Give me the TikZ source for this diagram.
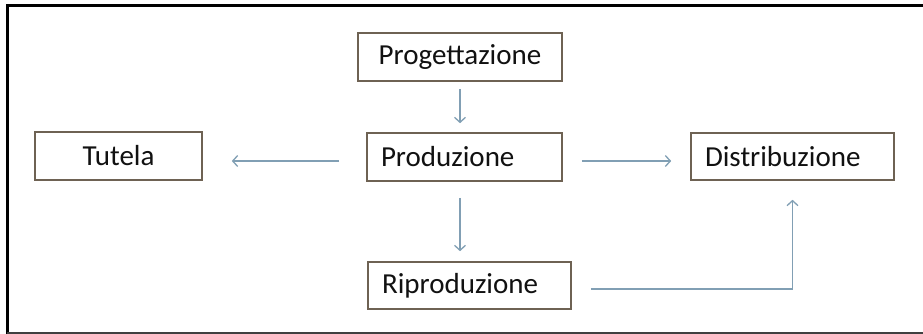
\documentclass[tikz,border=0pt]{standalone}
\usepackage{fontspec}
\setmainfont{Carlito}
\usetikzlibrary{arrows.meta}
\definecolor{boxc}{HTML}{6E6253}
\definecolor{arrc}{HTML}{819FB4}
\definecolor{txtc}{HTML}{111111}
\begin{document}
\begin{tikzpicture}[x=1pt,y=-1pt,
  box/.style={draw=boxc, line width=1.6pt, fill=white, text=txtc,
    font=\fontsize{29}{34}\selectfont, inner ysep=0pt, minimum height=48pt, anchor=center},
  cbox/.style={box, minimum width=#1, align=center, inner xsep=0pt},
  lbox/.style={box, text width=#1-28pt, align=left, inner xsep=14pt},
  conn/.style={draw=arrc, line width=1.5pt, -{Straight Barb[length=5pt,width=11pt,line width=1.3pt]}}
]
\useasboundingbox (0,0) rectangle (923,334);
\fill[white] (0,0) rectangle (923,334);
% frame
\draw[line width=3pt, black] (7.5,334) -- (7.5,6) -- (923,6);
\draw[line width=2pt, black!75] (7,332.5) -- (923,332.5);

\node[cbox=204pt] (prog) at (460,57) {Progettazione};
\node[lbox=195pt] (prod) at (464.5,157) {Produzione};
\node[cbox=167pt] (tut) at (118.5,156) {Tutela};
\node[lbox=203pt, minimum height=47pt] (dist) at (792.5,156.5) {Distribuzione};
\node[lbox=203pt, minimum height=47pt] (rip) at (469.5,285.5) {Riproduzione};

\draw[conn, shorten <=7pt, shorten >=9pt] (prog.south) -- (prog.south |- prod.north);
\draw[conn, shorten <=27pt, shorten >=29pt] ([yshift=-4pt]prod.west) -- ([yshift=-4pt]prod.west -| tut.east);
\draw[conn, shorten <=19pt, shorten >=19pt] ([yshift=-4pt]prod.east) -- ([yshift=-4pt]prod.east -| dist.west);
\draw[conn, shorten <=16pt, shorten >=10pt] (prod.south -| prog.south) -- (prog.south |- rip.north);
\draw[conn, shorten <=19pt, shorten >=19pt] ([yshift=-3.5pt]rip.east) -| (dist.south);
\end{tikzpicture}
\end{document}
